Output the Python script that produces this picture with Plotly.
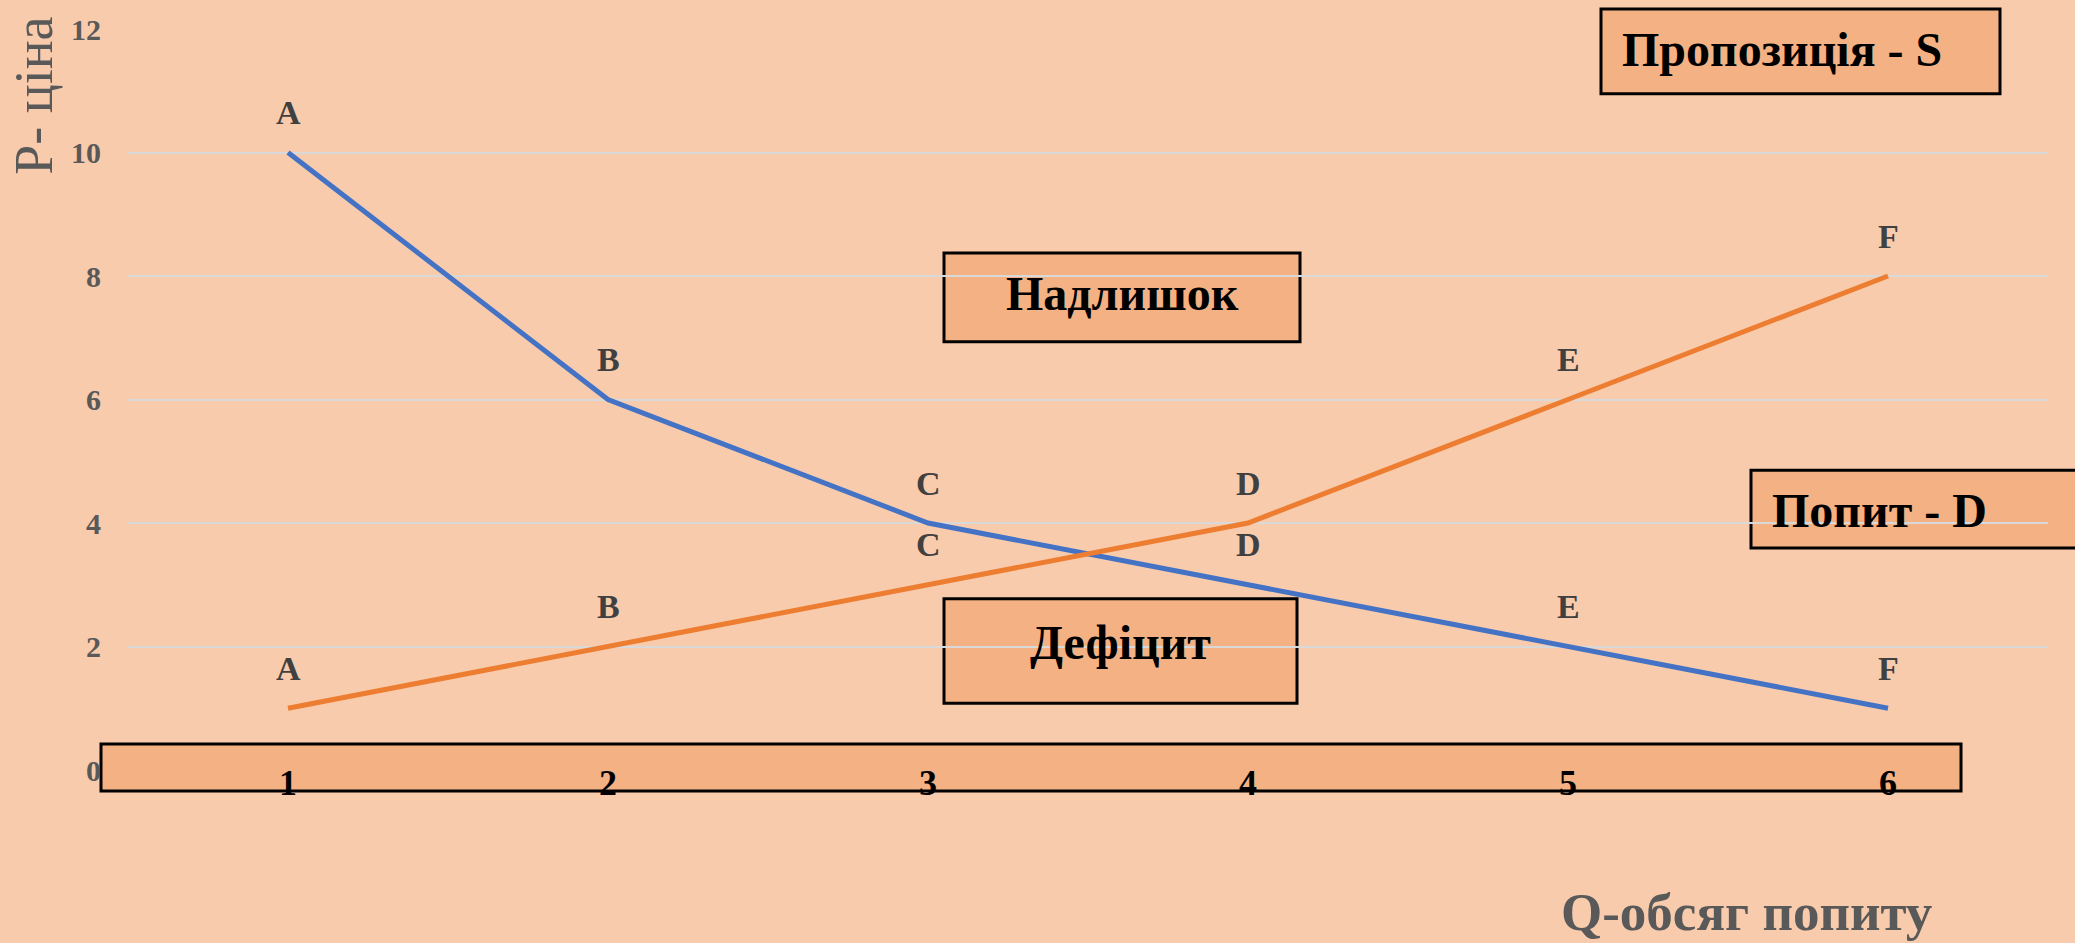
import plotly.graph_objects as go

# Дані: обсяг (Q) та ціна (P)
q = [1, 2, 3, 4, 5, 6]
q_labels = ["1", "2", "3", "4", "5", "6"]
point_names = ["A", "B", "C", "D", "E", "F"]
demand = [10, 6, 4, 3, 2, 1]   # попит - D
supply = [1, 2, 3, 4, 6, 8]    # пропозиція - S

BG = "#F8CBAD"
BOX = "#F4B183"
FONT = "Liberation Serif"

fig = go.Figure()

fig.add_trace(go.Scatter(x=q, y=demand, mode="lines", name="Попит - D",
                         line=dict(color="#4472C4", width=5)))
fig.add_trace(go.Scatter(x=q, y=supply, mode="lines", name="Пропозиція - S",
                         line=dict(color="#ED7D31", width=5)))

# підписи точок над лініями
for series in (demand, supply):
    for xi, yi, name in zip(q, series, point_names):
        fig.add_annotation(x=xi, y=yi, text=name, showarrow=False, yshift=40,
                           xanchor="center", yanchor="middle",
                           font=dict(family=FONT, size=34, color="#404040", weight="bold"))


def px_x(p):
    return (p - 128) / 1920


def px_y(p):
    return (770 - p) / 744


def box(x0, y0, x1, y1):
    fig.add_shape(type="rect", xref="paper", yref="paper",
                  x0=px_x(x0), x1=px_x(x1), y0=px_y(y1), y1=px_y(y0),
                  fillcolor=BOX, line=dict(color="black", width=3), layer="between")


def label(text, x, y, xanchor="center", **font):
    f = dict(family=FONT, size=48, color="black", weight="bold")
    f.update(font)
    fig.add_annotation(xref="paper", yref="paper", x=px_x(x), y=px_y(y),
                       xanchor=xanchor, yanchor="middle",
                       text=text, showarrow=False, font=f)


box(1601, 6, 2000, 91)
box(944, 251, 1300, 340)
box(944, 598, 1297, 703)
box(1751, 469, 2100, 547)
box(101, 744, 1961, 791)

label("Пропозиція - S", 1620, 47, xanchor="left")
label("Надлишок", 1122, 292)
label("Дефіцит", 1120, 642)
label("Попит - D", 1770, 509, xanchor="left")

# назви осей
label("Q-обсяг попиту", 1746, 913, size=53, color="#595959")
fig.add_annotation(xref="paper", yref="paper", x=px_x(34), y=px_y(93), textangle=-90,
                   xanchor="center", yanchor="middle",
                   text="P- ціна", showarrow=False,
                   font=dict(family=FONT, size=54, color="#595959"))

fig.update_layout(
    width=2075, height=943,
    margin=dict(l=128, r=27, t=26, b=173),
    paper_bgcolor=BG, plot_bgcolor=BG,
    showlegend=False,
    xaxis=dict(range=[0.5, 6.5], tickvals=q, ticktext=q_labels, showgrid=False,
               zeroline=False, showline=False, anchor="free", position=px_y(758),
               tickfont=dict(family=FONT, size=36, color="black", weight="bold")),
    yaxis=dict(range=[0, 12], dtick=2, gridcolor="#D9D9D9", gridwidth=1.5,
               zeroline=False, showline=False, ticklabelstandoff=26,
               tickfont=dict(family=FONT, size=30, color="#595959", weight="bold")),
)

fig.write_html("out.html", config={"displayModeBar": False},
               post_script="document.body.style.margin='0px';")
